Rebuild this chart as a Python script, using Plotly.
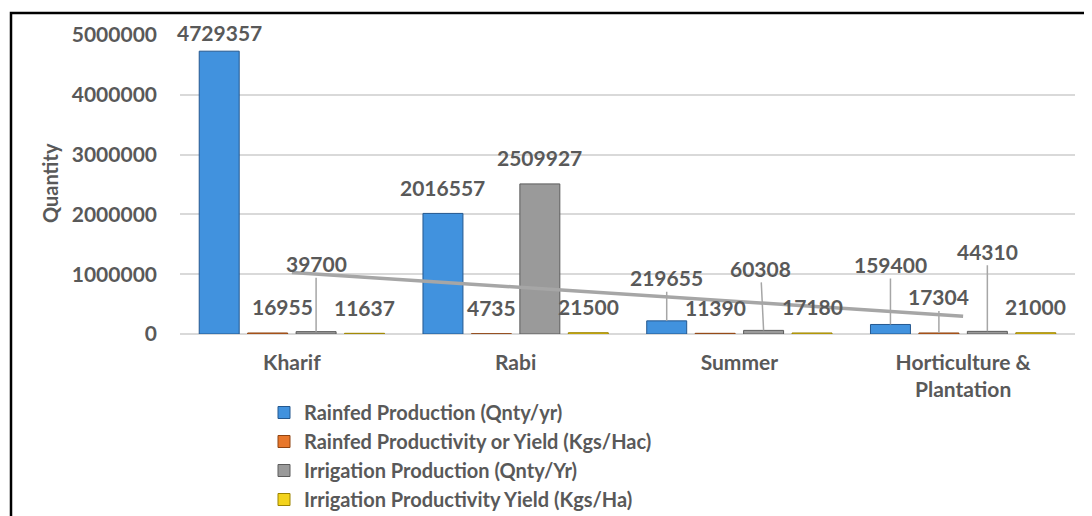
import numpy as np
import plotly.graph_objects as go

categories = ["Kharif", "Rabi", "Summer", "Horticulture &<br>Plantation"]
series_names = [
    "Rainfed Production (Qnty/yr)",
    "Rainfed Productivity or Yield (Kgs/Hac)",
    "Irrigation Production (Qnty/Yr)",
    "Irrigation Productivity Yield (Kgs/Ha)",
]
rainfed_production = [4729357, 2016557, 219655, 159400]
rainfed_yield = [16955, 4735, 11390, 17304]
irrigation_production = [39700, 2509927, 60308, 44310]
irrigation_yield = [11637, 21500, 17180, 21000]

series_values = [rainfed_production, rainfed_yield, irrigation_production, irrigation_yield]
fills = ["#4192de", "#e8772b", "#9a9a9a", "#f3d31c"]
edges = ["#24588f", "#8f4412", "#5c5c5c", "#9c8300"]

# page body adds an 8px margin, so figure coords = screen coords - 8
W, H = 1092, 516
L, R, T, B = 172, 25, 27, 190
BARGAP = 0.134
TXT = "#595959"
FONT = "Lato"

# label tweaks: (category, series) -> (dx, dy from bar top, leader line)
label_tweak = {
    (0, 0): (0, -19, False),
    (0, 1): (15, -26, False),
    (0, 2): (0, -68, True),
    (2, 0): (0, -43, True),
    (2, 2): (-3, -62, True),
    (3, 0): (0, -60, True),
    (3, 1): (0, -36, True),
    (3, 2): (0, -80, True),
}

x_pos = list(range(len(categories)))
slot = (1 - BARGAP) / len(series_values)

fig = go.Figure()
for j, (name, vals) in enumerate(zip(series_names, series_values)):
    fig.add_trace(go.Bar(
        x=x_pos, y=vals, name=name,
        marker=dict(color=fills[j], line=dict(color=edges[j], width=1)),
    ))

# linear trendline of the irrigation production series
coef = np.polyfit(np.arange(1, len(categories) + 1), irrigation_production, 1)
trend = np.polyval(coef, np.arange(1, len(categories) + 1))
fig.add_trace(go.Scatter(
    x=x_pos, y=trend, mode="lines", showlegend=False,
    line=dict(color="#a6a6a6", width=3.5), hoverinfo="skip",
))

pw = W - L - R
ph = H - T - B

annotations = []
for j, vals in enumerate(series_values):
    for i, v in enumerate(vals):
        dx, dy, leader = label_tweak.get((i, j), (0, -26, False))
        xa = i + (j - 1.5) * slot
        base = dict(x=xa, y=v, xref="x", yref="y", text=f"<b>{v}</b>",
                    font=dict(family=FONT, size=21, color=TXT))
        if leader:
            annotations.append(dict(base, showarrow=True, arrowhead=0, arrowwidth=1.5,
                                    arrowcolor="#a6a6a6", ax=dx, ay=dy, standoff=0))
        else:
            annotations.append(dict(base, showarrow=False, xshift=dx, yshift=-dy,
                                    yanchor="middle"))

# y axis title
annotations.append(dict(
    text="<b>Quantity</b>", xref="paper", yref="paper",
    x=(42 - L) / pw, y=(T + ph - 175) / ph, textangle=-90, showarrow=False,
    xanchor="center", yanchor="middle",
    font=dict(family=FONT, size=20, color=TXT),
))

border = dict(
    type="rect", xref="paper", yref="paper", layer="above",
    x0=(3 - L) / pw, x1=(W + 20 - L) / pw,
    y0=-(B + 20) / ph, y1=(H - B - 5) / ph,
    line=dict(color="black", width=2.5), fillcolor="rgba(0,0,0,0)",
)

fig.update_layout(
    width=W, height=H,
    margin=dict(l=L, r=R, t=T, b=B, autoexpand=False),
    paper_bgcolor="white", plot_bgcolor="white",
    barmode="group", bargap=BARGAP, bargroupgap=0.175,
    font=dict(family=FONT, color=TXT, size=21),
    annotations=annotations,
    shapes=[border],
    showlegend=True,
    legend=dict(
        xref="container", yref="container",
        x=256 / W, y=1 - 385 / H, xanchor="left", yanchor="top",
        font=dict(family=FONT, size=20, color=TXT, weight="bold"),
        bgcolor="rgba(0,0,0,0)", tracegroupgap=0, itemwidth=30,
    ),
)
fig.update_xaxes(
    range=[-0.5, len(categories) - 0.5], tickvals=x_pos, ticktext=categories,
    showgrid=False, zeroline=False, showline=False, ticks="",
    tickfont=dict(family=FONT, size=21, color=TXT, weight="bold"),
    ticklabelstandoff=14,
)
fig.update_yaxes(
    range=[0, 5000000], dtick=1000000, tickformat="d",
    showgrid=True, gridcolor="#d9d9d9", gridwidth=2,
    zeroline=True, zerolinecolor="#d9d9d9", zerolinewidth=2,
    tickfont=dict(family=FONT, size=21, color=TXT, weight="bold"),
    ticklabelstandoff=22,
)

fig.write_html("out.html")
